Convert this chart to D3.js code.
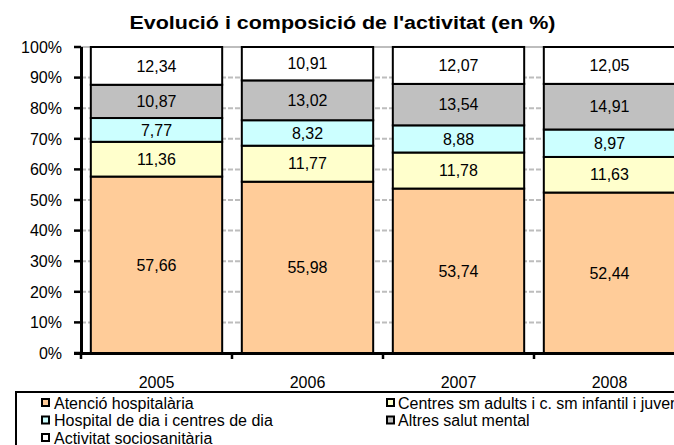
<!DOCTYPE html>
<html>
<head>
<meta charset="utf-8">
<script src="https://cdn.jsdelivr.net/npm/d3@7"></script>
<style>
  body { margin: 0; background: #fff; }
  svg { display: block; font-family: "Liberation Sans", Arial, sans-serif; }
</style>
</head>
<body>
<div id="chart"></div>
<script>
var years = ["2005", "2006", "2007", "2008"];
var series = [
    "Atenció hospitalària",
    "Centres sm adults i c. sm infantil i juvenil",
    "Hospital de dia i centres de dia",
    "Altres salut mental",
    "Activitat sociosanitària"
];
var colors = ["#FFCC99", "#FFFFCC", "#CCFFFF", "#C0C0C0", "#FFFFFF"];
// values per series, one per year
var atencio = [57.66, 55.98, 53.74, 52.44];
var centres = [11.36, 11.77, 11.78, 11.63];
var hospitalDia = [7.77, 8.32, 8.88, 8.97];
var altres = [10.87, 13.02, 13.54, 14.91];
var sociosanitaria = [12.34, 10.91, 12.07, 12.05];
var yTicks = [0, 10, 20, 30, 40, 50, 60, 70, 80, 90, 100];
// legend order as in the picture (row by row, two columns)
var legendOrder = [0, 1, 2, 3, 4];

var width = 674, height = 445;
var svg = d3.select("#chart").append("svg")
    .attr("width", width)
    .attr("height", height);

var rows = years.map(function (y, i) {
    return {
        year: y,
        s0: atencio[i], s1: centres[i], s2: hospitalDia[i],
        s3: altres[i], s4: sociosanitaria[i]
    };
});
var keys = ["s0", "s1", "s2", "s3", "s4"];
var stacked = d3.stack().keys(keys)(rows);

var x = d3.scaleBand()
    .domain(years)
    .range([81, 685])
    .paddingInner(0.13)
    .paddingOuter(0.065);

var y = d3.scaleLinear()
    .domain([0, 100])
    .range([353, 47]);

var comma = d3.formatLocale({decimal: ",", thousands: ".", grouping: [3], currency: ["", ""]}).format(".2f");

// gridlines
svg.append("g")
    .selectAll("line")
    .data(yTicks.slice(1))
    .enter().append("line")
    .attr("x1", 81)
    .attr("x2", width)
    .attr("y1", function (d) { return y(d); })
    .attr("y2", function (d) { return y(d); })
    .attr("stroke", "#bdbdbd")
    .attr("stroke-width", 2)
    .attr("stroke-dasharray", function (d) { return d === 100 ? null : "5,2"; });

// bars
var layer = svg.append("g")
    .selectAll("g")
    .data(stacked)
    .enter().append("g")
    .attr("fill", function (d, i) { return colors[i]; });

layer.selectAll("rect")
    .data(function (d) { return d; })
    .enter().append("rect")
    .attr("x", function (d) { return x(d.data.year); })
    .attr("y", function (d) { return y(d[1]); })
    .attr("width", x.bandwidth())
    .attr("height", function (d) { return y(d[0]) - y(d[1]); })
    .attr("stroke", "#000")
    .attr("stroke-width", 2);

layer.selectAll("text")
    .data(function (d) { return d; })
    .enter().append("text")
    .attr("x", function (d) { return x(d.data.year) + x.bandwidth() / 2; })
    .attr("y", function (d) { return (y(d[0]) + y(d[1])) / 2; })
    .attr("dy", "0.36em")
    .attr("text-anchor", "middle")
    .attr("fill", "#000")
    .style("font-size", "16px")
    .text(function (d) { return comma(d[1] - d[0]); });

// y axis
var yAxis = svg.append("g");
yAxis.append("line")
    .attr("x1", 81.5).attr("x2", 81.5)
    .attr("y1", 47).attr("y2", 354)
    .attr("stroke", "#000").attr("stroke-width", 3);
yAxis.selectAll(".tick")
    .data(yTicks)
    .enter().append("line")
    .attr("x1", 74).attr("x2", 81)
    .attr("y1", function (d) { return y(d); })
    .attr("y2", function (d) { return y(d); })
    .attr("stroke", "#000").attr("stroke-width", 2.5);
yAxis.selectAll("text")
    .data(yTicks)
    .enter().append("text")
    .attr("x", 62)
    .attr("y", function (d) { return y(d); })
    .attr("dy", "0.36em")
    .attr("text-anchor", "end")
    .style("font-size", "16px")
    .text(function (d) { return d + "%"; });

// x axis
var xAxis = svg.append("g");
xAxis.append("line")
    .attr("x1", 74).attr("x2", width)
    .attr("y1", 353.5).attr("y2", 353.5)
    .attr("stroke", "#000").attr("stroke-width", 3);
xAxis.selectAll(".tick")
    .data(years)
    .enter().append("line")
    .attr("x1", function (d) { return x(d) + x.bandwidth() / 2 - x.step() / 2; })
    .attr("x2", function (d) { return x(d) + x.bandwidth() / 2 - x.step() / 2; })
    .attr("y1", 353).attr("y2", 359)
    .attr("stroke", "#000").attr("stroke-width", 2.5);
xAxis.selectAll("text")
    .data(years)
    .enter().append("text")
    .attr("x", function (d) { return x(d) + x.bandwidth() / 2; })
    .attr("y", 388)
    .attr("text-anchor", "middle")
    .style("font-size", "16px")
    .text(function (d) { return d; });

// title
svg.append("text")
    .attr("x", 342.5)
    .attr("y", 29)
    .attr("text-anchor", "middle")
    .attr("textLength", 426)
    .attr("lengthAdjust", "spacingAndGlyphs")
    .style("font-size", "18px")
    .style("font-weight", "bold")
    .text("Evolució  i composició  de l'activitat (en %)");

// legend
var legend = svg.append("g");
legend.append("rect")
    .attr("x", 16).attr("y", 392)
    .attr("width", 700).attr("height", 80)
    .attr("fill", "#fff")
    .attr("stroke", "#000").attr("stroke-width", 2);

var legendItem = legend.selectAll(".item")
    .data(legendOrder)
    .enter().append("g")
    .attr("transform", function (d, i) {
        var col = i % 2, row = Math.floor(i / 2);
        return "translate(" + (col === 0 ? 42 : 387) + "," + (403 + row * 17.5) + ")";
    });

legendItem.append("rect")
    .attr("x", 0).attr("y", -4)
    .attr("width", 7).attr("height", 7)
    .attr("fill", function (d) { return colors[d]; })
    .attr("stroke", "#000").attr("stroke-width", 2);

legendItem.append("text")
    .attr("x", function (d, i) { return i % 2 === 0 ? 12 : 11; })
    .attr("y", 0)
    .attr("dy", "0.36em")
    .style("font-size", "16px")
    .text(function (d) { return series[d]; });
</script>
</body>
</html>
